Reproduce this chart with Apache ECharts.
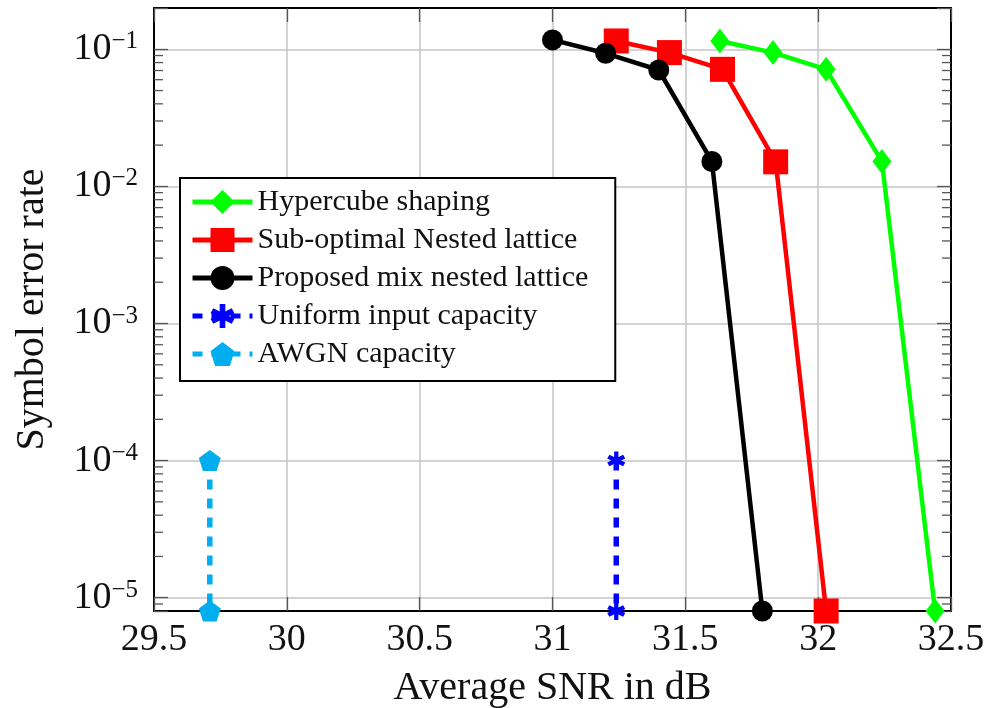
<!DOCTYPE html>
<html>
<head>
<meta charset="utf-8">
<script src="https://cdn.jsdelivr.net/npm/echarts@6/dist/echarts.min.js"></script>
<style>
  html, body { margin: 0; padding: 0; background: #fff; }
  #chart { width: 990px; height: 708px; }
</style>
</head>
<body>
<div id="chart"></div>
<script>
const FONT = "'Liberation Serif', 'Times New Roman', serif";

// Average SNR (dB) against symbol error rate for each scheme
const snrHypercube  = [31.63, 31.83, 32.03, 32.24, 32.44];
const serHypercube  = [0.115, 0.0946, 0.0714, 0.0152, 8e-6];
const snrSubOptimal = [31.24, 31.44, 31.64, 31.84, 32.03];
const serSubOptimal = [0.115, 0.0946, 0.0714, 0.0151, 8e-6];
const snrProposed   = [31.0, 31.2, 31.4, 31.6, 31.79];
const serProposed   = [0.117, 0.0935, 0.0706, 0.0152, 8e-6];
const snrUniformCap = [31.24, 31.24];
const serUniformCap = [1e-4, 8e-6];
const snrAwgnCap    = [29.71, 29.71];
const serAwgnCap    = [1e-4, 8e-6];

const seriesNames = [
  'Hypercube shaping',
  'Sub-optimal Nested lattice',
  'Proposed mix nested lattice',
  'Uniform input capacity',
  'AWGN capacity'
];

// Axis ranges and tick layout
const xMin = 29.5, xMax = 32.5, xStep = 0.5;
const yMin = 8e-6, yMax = 0.2;
const decadeExponents = [-6, -5, -4, -3, -2, -1];
const minorMantissas = [2, 3, 4, 5, 6, 7, 8, 9];

const minorTickValues = [];
decadeExponents.forEach(function (e) {
  minorMantissas.forEach(function (m) {
    const v = m * Math.pow(10, e);
    if (v > yMin * 1.001 && v < yMax * 0.999) minorTickValues.push(v);
  });
});

const pairs = (xs, ys) => xs.map((x, i) => [x, ys[i]]);

// Six-armed asterisk and regular pentagon marks
const ASTERISK = 'path://M-2.4 -10 L2.4 -10 L2.4 10 L-2.4 10 Z ' +
  'M-10.26 -2.23 L-7.86 -6.39 L10.26 2.23 L7.86 6.39 Z ' +
  'M7.86 -6.39 L10.26 -2.23 L-7.86 6.39 L-10.26 2.23 Z';
const PENTAGON = 'path://M0 -10 L9.51 -3.09 L5.88 8.09 L-5.88 8.09 L-9.51 -3.09 Z';

const GRID_COLOR = '#c4c4c4';
const TICK_COLOR = '#555';
const MAJOR_TICK = 14, MINOR_TICK = 9;

function powerLabel(v) {
  const e = Math.log10(v);
  if (Math.abs(e - Math.round(e)) > 1e-6) return '';
  return '{b|10}{s|\u2212' + (-Math.round(e)) + '}';
}

const chart = echarts.init(document.getElementById('chart'), null, { renderer: 'canvas' });

const option = {
  animation: false,
  backgroundColor: '#fff',
  grid: { left: 154, right: 39, top: 8, bottom: 97, containLabel: false, outerBoundsMode: 'none' },
  legend: {
    orient: 'vertical',
    left: 180,
    top: 178,
    data: seriesNames,
    backgroundColor: '#fff',
    borderColor: '#000',
    borderWidth: 2,
    borderRadius: 0,
    padding: [9, 27, 12, 10],
    itemWidth: 60,
    itemHeight: 30,
    itemGap: 8,
    lineStyle: { width: 5 },
    textStyle: { fontFamily: FONT, fontSize: 30, color: '#111', lineHeight: 30 }
  },
  xAxis: [
    {
      type: 'value', position: 'bottom', min: xMin, max: xMax, interval: xStep,
      axisLine: { show: true, onZero: false, lineStyle: { color: '#000', width: 2 } },
      axisTick: { show: true, inside: true, length: MAJOR_TICK, lineStyle: { color: TICK_COLOR, width: 1.3 } },
      axisLabel: { fontFamily: FONT, fontSize: 38, color: '#111', margin: 10 },
      splitLine: { show: true, lineStyle: { color: GRID_COLOR, width: 1.5 } },
      name: 'Average SNR in dB',
      nameLocation: 'middle',
      nameGap: 57,
      nameTextStyle: { fontFamily: FONT, fontSize: 40, color: '#111' }
    },
    {
      type: 'value', position: 'top', min: xMin, max: xMax, interval: xStep,
      axisLine: { show: true, onZero: false, lineStyle: { color: '#000', width: 2 } },
      axisTick: { show: true, inside: true, length: MAJOR_TICK, lineStyle: { color: TICK_COLOR, width: 1.3 } },
      axisLabel: { show: false },
      splitLine: { show: false }
    }
  ],
  yAxis: [
    {
      type: 'log', logBase: 10, position: 'left', min: yMin, max: yMax,
      axisLine: { show: true, onZero: false, lineStyle: { color: '#000', width: 2 } },
      axisTick: { show: true, inside: true, length: MAJOR_TICK, lineStyle: { color: TICK_COLOR, width: 1.3 } },
      axisLabel: {
        margin: 16,
        formatter: powerLabel,
        rich: {
          b: { fontFamily: FONT, fontSize: 38, color: '#111', lineHeight: 40, verticalAlign: 'middle' },
          s: { fontFamily: FONT, fontSize: 25, color: '#111', lineHeight: 25, verticalAlign: 'top' }
        }
      },
      splitLine: { show: true, lineStyle: { color: GRID_COLOR, width: 1.5 } },
      name: 'Symbol error rate',
      nameLocation: 'middle',
      nameGap: 102,
      nameTextStyle: { fontFamily: FONT, fontSize: 40, color: '#111' }
    },
    {
      type: 'log', logBase: 10, position: 'right', min: yMin, max: yMax,
      axisLine: { show: true, onZero: false, lineStyle: { color: '#000', width: 2 } },
      axisTick: { show: true, inside: true, length: MAJOR_TICK, lineStyle: { color: TICK_COLOR, width: 1.3 } },
      axisLabel: { show: false },
      splitLine: { show: false }
    }
  ],
  series: [
    {
      // minor ticks of the log axis, on both sides of the plot
      name: 'minor ticks',
      type: 'custom',
      silent: true,
      clip: false,
      z: 1,
      data: minorTickValues.map(v => [xMin, v]),
      renderItem: function (params, api) {
        const v = api.value(1);
        const l = api.coord([xMin, v]);
        const r = api.coord([xMax, v]);
        const st = { stroke: TICK_COLOR, lineWidth: 1.3 };
        return {
          type: 'group',
          children: [
            { type: 'line', shape: { x1: l[0], y1: l[1], x2: l[0] + MINOR_TICK, y2: l[1] }, style: st },
            { type: 'line', shape: { x1: r[0] - MINOR_TICK, y1: r[1], x2: r[0], y2: r[1] }, style: st }
          ]
        };
      }
    },
    {
      name: seriesNames[0], type: 'line', clip: false,
      data: pairs(snrHypercube, serHypercube),
      symbol: 'diamond', symbolSize: [19, 25],
      lineStyle: { color: '#00ff00', width: 4.5 },
      itemStyle: { color: '#00ff00' }
    },
    {
      name: seriesNames[1], type: 'line', clip: false,
      data: pairs(snrSubOptimal, serSubOptimal),
      symbol: 'rect', symbolSize: 25,
      lineStyle: { color: '#ff0000', width: 4.5 },
      itemStyle: { color: '#ff0000' }
    },
    {
      name: seriesNames[2], type: 'line', clip: false,
      data: pairs(snrProposed, serProposed),
      symbol: 'circle', symbolSize: 21,
      lineStyle: { color: '#000000', width: 4.5 },
      itemStyle: { color: '#000000' }
    },
    {
      name: seriesNames[3], type: 'line', clip: false,
      data: pairs(snrUniformCap, serUniformCap),
      symbol: ASTERISK, symbolSize: 18,
      lineStyle: { color: '#0000ff', width: 5.5, type: [10, 9] },
      itemStyle: { color: '#0000ff' }
    },
    {
      name: seriesNames[4], type: 'line', clip: false,
      data: pairs(snrAwgnCap, serAwgnCap),
      symbol: PENTAGON, symbolSize: [22, 21],
      lineStyle: { color: '#00aeef', width: 5.5, type: [10, 9] },
      itemStyle: { color: '#00aeef' }
    }
  ]
};

chart.setOption(option);
</script>
</body>
</html>
